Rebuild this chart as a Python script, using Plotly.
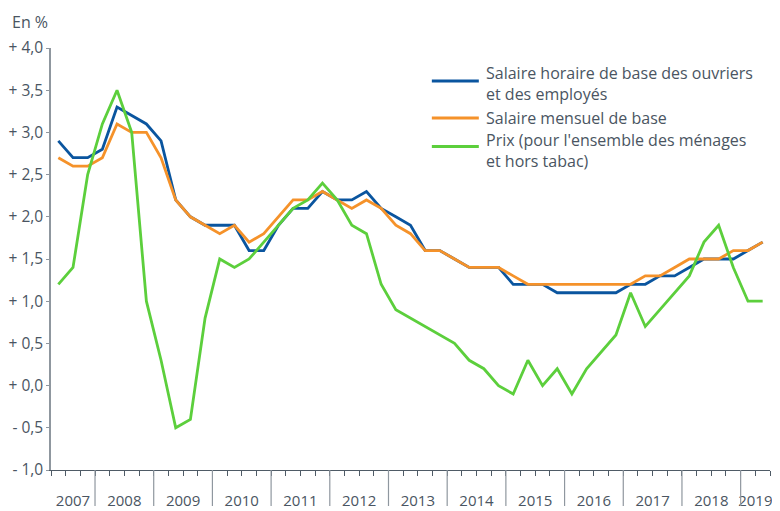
import plotly.graph_objects as go

# ---- data (quarterly, 2007 Q2 .. 2019 Q2), year-on-year change in %
years = ["2007", "2008", "2009", "2010", "2011", "2012", "2013",
         "2014", "2015", "2016", "2017", "2018", "2019"]
quarters_per_year = [3, 4, 4, 4, 4, 4, 4, 4, 4, 4, 4, 4, 2]

salaire_horaire = [2.9, 2.7, 2.7, 2.8, 3.3, 3.2, 3.1, 2.9,
                   2.2, 2.0, 1.9, 1.9, 1.9, 1.6, 1.6, 1.9,
                   2.1, 2.1, 2.3, 2.2, 2.2, 2.3, 2.1, 2.0,
                   1.9, 1.6, 1.6, 1.5, 1.4, 1.4, 1.4, 1.2,
                   1.2, 1.2, 1.1, 1.1, 1.1, 1.1, 1.1, 1.2,
                   1.2, 1.3, 1.3, 1.4, 1.5, 1.5, 1.5, 1.6,
                   1.7]
salaire_mensuel = [2.7, 2.6, 2.6, 2.7, 3.1, 3.0, 3.0, 2.7,
                   2.2, 2.0, 1.9, 1.8, 1.9, 1.7, 1.8, 2.0,
                   2.2, 2.2, 2.3, 2.2, 2.1, 2.2, 2.1, 1.9,
                   1.8, 1.6, 1.6, 1.5, 1.4, 1.4, 1.4, 1.3,
                   1.2, 1.2, 1.2, 1.2, 1.2, 1.2, 1.2, 1.2,
                   1.3, 1.3, 1.4, 1.5, 1.5, 1.5, 1.6, 1.6,
                   1.7]
prix = [1.2, 1.4, 2.5, 3.1, 3.5, 3.0, 1.0, 0.3,
        -0.5, -0.4, 0.8, 1.5, 1.4, 1.5, 1.7, 1.9,
        2.1, 2.2, 2.4, 2.2, 1.9, 1.8, 1.2, 0.9,
        0.8, 0.7, 0.6, 0.5, 0.3, 0.2, 0.0, -0.1,
        0.3, 0.0, 0.2, -0.1, 0.2, 0.4, 0.6, 1.1,
        0.7, 0.9, 1.1, 1.3, 1.7, 1.9, 1.4, 1.0,
        1.0]

series_names = ["Salaire horaire de base des ouvriers<br>et des employés",
                "Salaire mensuel de base",
                "Prix (pour l'ensemble des ménages<br>et hors tabac)"]
series_colors = ["#0a559f", "#f5922a", "#5ccf3c"]

y_tickvals = [-1.0, -0.5, 0.0, 0.5, 1.0, 1.5, 2.0, 2.5, 3.0, 3.5, 4.0]
y_ticktext = ["- 1,0", "- 0,5", "+ 0,0", "+ 0,5", "+ 1,0", "+ 1,5",
              "+ 2,0", "+ 2,5", "+ 3,0", "+ 3,5", "+ 4,0"]

# ---- geometry helpers
n = len(prix)
x = list(range(n))
bounds = [-0.5]
for q in quarters_per_year:
    bounds.append(bounds[-1] + q)
year_centers = [(bounds[i] + bounds[i + 1]) / 2 for i in range(len(years))]

FONT = "Open Sans, Noto Sans, sans-serif"
TXT = "#4a5562"
FS = 16

fig = go.Figure()
for vals, name, col in zip([salaire_horaire, salaire_mensuel, prix], series_names, series_colors):
    fig.add_trace(go.Scatter(x=x, y=vals, mode="lines", name=name,
                             line=dict(color=col, width=2.8), showlegend=False))

# page is rendered with an 8px body margin -> design in page pixels, shift by OFF
OFF = 8
W, H = 780 - OFF, 511 - OFF
PL, PR, PT, PB = 51, 770.3, 48, 470   # plot area in page pixels
L, T = PL - OFF, PT - OFF
R, B = W - (PR - OFF), H - (PB - OFF)
pw, ph = PR - PL, PB - PT

def px_x(p):
    return (p - PL) / pw

def px_y(p):
    return (PB - p) / ph

shapes = []
# year separators
for b in bounds[1:-1]:
    shapes.append(dict(type="line", xref="x", yref="paper", x0=b, x1=b,
                       y0=0, y1=-36 / ph, line=dict(color="#8f979f", width=1.2)))

# manual legend
leg_line_y = [81, 118, 146.5]
leg_text_y = [83.5, 118, 150.5]
annotations = []
for ly, ty, name, col in zip(leg_line_y, leg_text_y, series_names, series_colors):
    shapes.append(dict(type="line", xref="paper", yref="paper",
                       x0=px_x(432), x1=px_x(479), y0=px_y(ly), y1=px_y(ly),
                       line=dict(color=col, width=3)))
    annotations.append(dict(xref="paper", yref="paper", x=px_x(484), y=px_y(ty),
                            xanchor="left", yanchor="middle", align="left",
                            text=name, showarrow=False,
                            font=dict(family=FONT, size=FS, color=TXT)))

annotations.append(dict(xref="paper", yref="paper", x=px_x(10), y=px_y(22),
                        xanchor="left", yanchor="middle", text="En %",
                        showarrow=False, font=dict(family=FONT, size=FS, color=TXT)))

fig.update_layout(
    width=W, height=H,
    margin=dict(l=L, r=R, t=T, b=B, autoexpand=False),
    paper_bgcolor="white", plot_bgcolor="white",
    font=dict(family=FONT, size=FS, color=TXT),
    shapes=shapes, annotations=annotations,
    showlegend=False,
)
fig.update_xaxes(range=[-0.5, n - 0.5], tickvals=year_centers, ticktext=years,
                 ticks="", showgrid=False, zeroline=False, automargin=False,
                 showline=True, linecolor="#4f5b66", linewidth=1.2,
                 ticklabelstandoff=17, tickfont=dict(size=15, color=TXT),
                 minor=dict(tick0=-0.5, dtick=1, ticks="outside", ticklen=5,
                            tickcolor="#4f5b66", tickwidth=1, showgrid=False))
fig.update_yaxes(range=[-1, 4], tickvals=y_tickvals, ticktext=y_ticktext,
                 ticks="outside", ticklen=3, tickcolor="#8f979f", tickwidth=1,
                 showgrid=False, zeroline=False, automargin=False,
                 showline=True, linecolor="#8f979f", linewidth=1.5,
                 tickfont=dict(size=15.5, color=TXT))

fig.write_html("out.html")
